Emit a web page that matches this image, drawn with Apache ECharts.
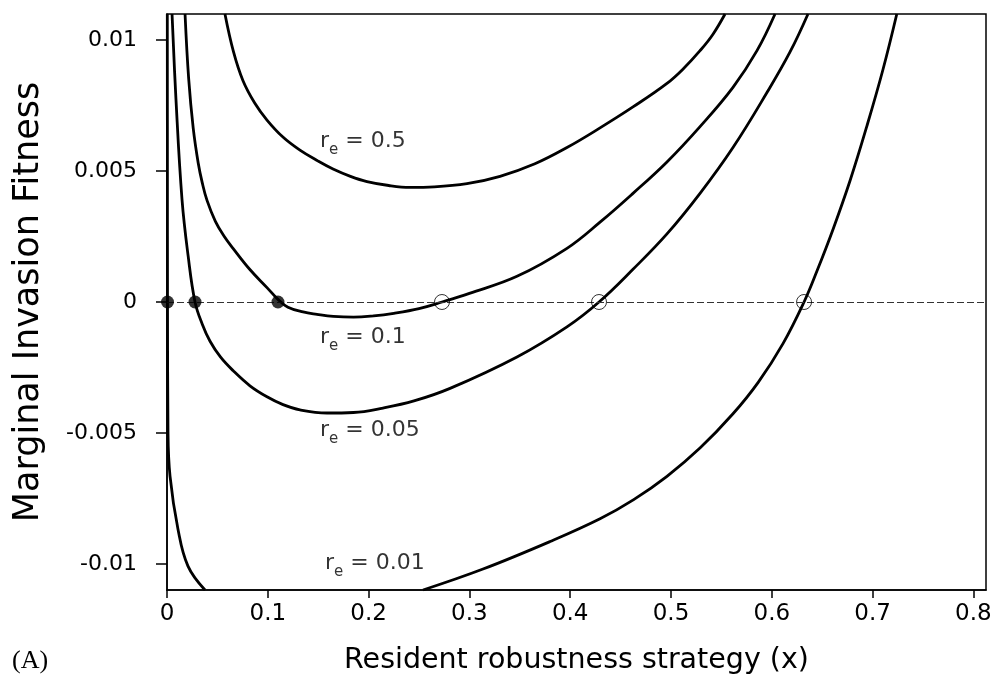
<!DOCTYPE html>
<html>
<head>
<meta charset="utf-8">
<script src="https://cdn.jsdelivr.net/npm/echarts@6/dist/echarts.min.js"></script>
<style>
html,body{margin:0;padding:0;background:#fff;}
#chart{width:997px;height:681px;}
</style>
</head>
<body>
<div id="chart"></div>
<script>
// ---- data (y values in plain units) ----
const xTicks = [0, 0.1, 0.2, 0.3, 0.4, 0.5, 0.6, 0.7, 0.8];
const yTicks = [-0.01, -0.005, 0, 0.005, 0.01];

const re05X = [0.0575,0.066,0.0754,0.087,0.0992,0.115,0.1319,0.150,0.1647,0.182,0.1984,0.220,0.2411,0.265,0.2976,0.3304,0.365,0.3968,0.4296,0.4623,0.4960,0.5125,0.5288,0.5415,0.5536];
const re05Y = [0.0110,0.00955,0.00845,0.0076,0.00695,0.0063,0.0058,0.00538,0.00508,0.0048,0.0046,0.00445,0.00438,0.0044,0.00452,0.0048,0.00528,0.0059,0.00665,0.00745,0.00835,0.00892,0.0096,0.01022,0.0110];

const re01X = [0.0179,0.0215,0.026,0.031,0.035,0.0397,0.048,0.0565,0.0655,0.082,0.0992,0.1101,0.120,0.135,0.1488,0.165,0.185,0.205,0.225,0.25,0.2728,0.30,0.3472,0.3968,0.4296,0.4623,0.4960,0.5288,0.5615,0.5853,0.6032];
const re01Y = [0.0110,0.00853,0.00664,0.0053,0.00455,0.00388,0.00308,0.00252,0.00205,0.00125,0.00055,0.0001,-0.0002,-0.00038,-0.00047,-0.00055,-0.00058,-0.00053,-0.00043,-0.00025,0,0.00033,0.00098,0.00205,0.00305,0.00415,0.00535,0.0067,0.0082,0.0096,0.0110];

const re005X = [0.0050,0.0089,0.0149,0.021,0.0278,0.035,0.0427,0.053,0.0655,0.0823,0.0992,0.1151,0.1319,0.1587,0.185,0.2143,0.245,0.2808,0.3472,0.3968,0.4286,0.4623,0.4960,0.5288,0.5615,0.5952,0.6181,0.6359];
const re005Y = [0.0110,0.00774,0.00391,0.00175,0,-0.00085,-0.0015,-0.0021,-0.00262,-0.0032,-0.00362,-0.00392,-0.00412,-0.00424,-0.00422,-0.00405,-0.00378,-0.0033,-0.0021,-0.00095,0,0.00125,0.0026,0.00415,0.0059,0.0080,0.00955,0.0110];

const re001LeftX = [0.0003,0.0004,0.0005,0.0010,0.0030,0.0109,0.0208,0.0377];
const re001LeftY = [0.0110,0.0050,0,-0.00497,-0.00665,-0.00868,-0.01009,-0.0110];
const re001RightX = [0.2540,0.3135,0.3800,0.4296,0.4630,0.4960,0.5290,0.5615,0.5865,0.6111,0.6320,0.6448,0.6607,0.6776,0.6944,0.7103,0.7240];
const re001RightY = [-0.0110,-0.0102,-0.00915,-0.00828,-0.00755,-0.00666,-0.00557,-0.00427,-0.00307,-0.00159,0,0.00118,0.00277,0.00463,0.00673,0.00888,0.0110];

const stableX = [0.0005, 0.0278, 0.1101];
const stableY = [0, 0, 0];
const unstableX = [0.2728, 0.4286, 0.6320];
const unstableY = [0, 0, 0];

const curveLabels = ['0.5', '0.1', '0.05', '0.01'];
const labelX = [0.1518, 0.1518, 0.1518, 0.1567];
const labelY = [0.00603, -0.00145, -0.0050, -0.01007];

// ---- chart ----
const FONT = 'DejaVu Sans';
const zip = (xs, ys) => xs.map((x, i) => [x, ys[i]]);
const curveStyle = { color: '#000', width: 2.8 };

function curve(name, xs, ys, extra) {
  return Object.assign({
    name: name, type: 'line', data: zip(xs, ys),
    showSymbol: false, symbol: 'none', smooth: 0.4,
    lineStyle: curveStyle, clip: true, z: 3, silent: true
  }, extra || {});
}

const chart = echarts.init(document.getElementById('chart'), null, { renderer: 'canvas' });
chart.setOption({
  animation: false,
  backgroundColor: '#fff',
  grid: { left: 167, right: 11, top: 14, bottom: 91, show: true, borderColor: '#000', borderWidth: 1.5, backgroundColor: 'transparent' },
  xAxis: {
    type: 'value', min: 0, max: 0.8125,
    name: 'Resident robustness strategy (x)', nameLocation: 'middle', nameGap: 56,
    nameTextStyle: { fontFamily: FONT, fontSize: 28.5, color: '#000' },
    axisLine: { show: true, onZero: false, lineStyle: { color: '#000', width: 1.5 } },
    axisTick: { show: true, inside: false, length: 8, customValues: xTicks, lineStyle: { color: '#000', width: 1.5 } },
    axisLabel: { customValues: xTicks, margin: 13, fontFamily: FONT, fontSize: 23, color: '#000',
      formatter: v => String(Math.round(v * 10) / 10) },
    splitLine: { show: false }
  },
  yAxis: {
    type: 'value', min: -0.011, max: 0.011,
    name: 'Marginal Invasion Fitness', nameLocation: 'middle', nameGap: 121,
    nameTextStyle: { fontFamily: FONT, fontSize: 35, color: '#000' },
    axisLine: { show: true, onZero: false, lineStyle: { color: '#000', width: 1.5 } },
    axisTick: { show: true, inside: false, length: 11, customValues: yTicks, lineStyle: { color: '#000', width: 1.5 } },
    axisLabel: { customValues: yTicks, margin: 30, fontFamily: FONT, fontSize: 22, color: '#000',
      formatter: v => String(Math.round(v * 1000) / 1000) },
    splitLine: { show: false }
  },
  graphic: [{
    type: 'text', left: 12, top: 648,
    style: { text: '(A)', font: '26px "Liberation Serif", "DejaVu Serif", serif', fill: '#000' }
  }],
  series: [
    curve('re=0.5', re05X, re05Y, {
      markLine: {
        silent: true, symbol: ['none', 'none'], label: { show: false },
        lineStyle: { type: [7, 3], color: '#333', width: 1 },
        data: [{ yAxis: 0 }]
      }
    }),
    curve('re=0.1', re01X, re01Y),
    curve('re=0.05', re005X, re005Y),
    curve('re=0.01 a', re001LeftX, re001LeftY),
    curve('re=0.01 b', re001RightX, re001RightY),
    {
      name: 'stable', type: 'scatter', data: zip(stableX, stableY),
      symbol: 'circle', symbolSize: 13, itemStyle: { color: '#000' }, z: 5, silent: true
    },
    {
      name: 'unstable', type: 'scatter', data: zip(unstableX, unstableY),
      symbol: 'circle', symbolSize: 15,
      itemStyle: { color: 'rgba(255,255,255,0)', borderColor: '#000', borderWidth: 1 }, z: 5, silent: true
    },
    {
      name: 'labels', type: 'scatter', symbolSize: 0, silent: true, z: 6,
      itemStyle: { color: '#000' },
      data: labelX.map((x, i) => [x, labelY[i]]),
      label: {
        show: true, position: 'right', distance: 0, color: '#000',
        formatter: p => '{n|r}{s|e}{n| = ' + curveLabels[p.dataIndex] + '}',
        rich: {
          n: { fontFamily: FONT, fontSize: 22, color: '#000', verticalAlign: 'top', lineHeight: 22 },
          s: { fontFamily: FONT, fontSize: 15, color: '#000', verticalAlign: 'bottom', lineHeight: 27 }
        }
      }
    }
  ]
});
</script>
</body>
</html>
